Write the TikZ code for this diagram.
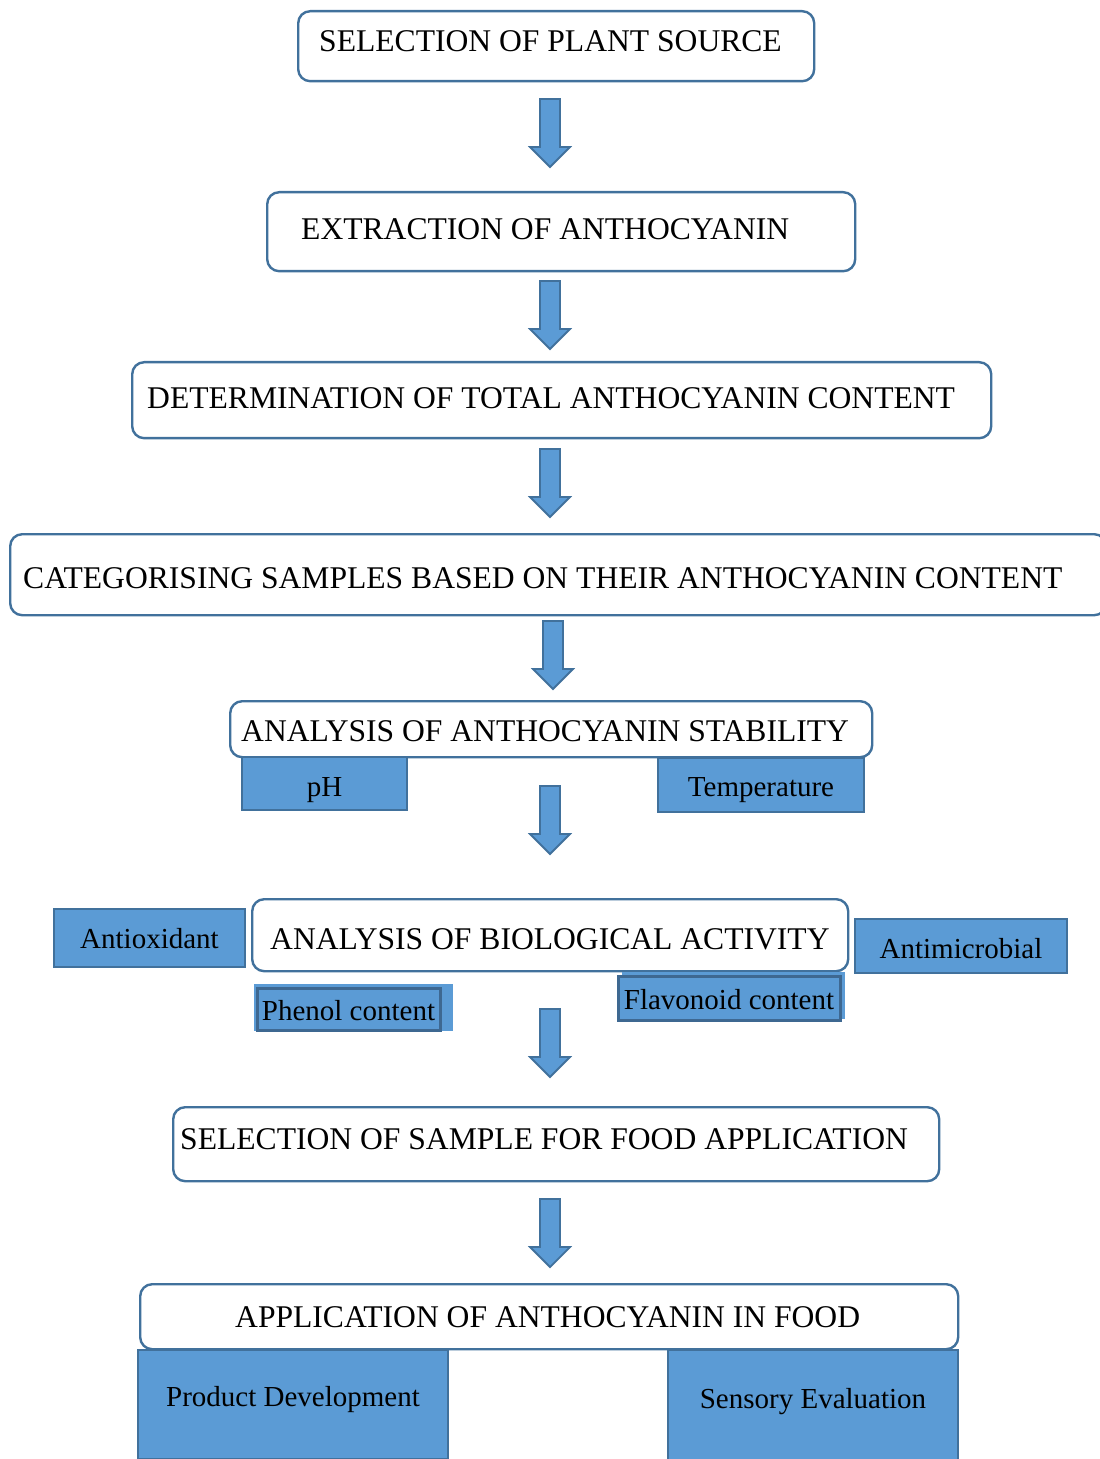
\documentclass[tikz,border=0pt]{standalone}
\usepackage{fontspec}
\setmainfont{Liberation Serif}
\usepackage{tikz}

\definecolor{boxblue}{RGB}{91,155,213}
\definecolor{edgeblue}{RGB}{65,113,156}
\definecolor{frameblue}{RGB}{62,104,145}

\tikzset{
  stage/.style={draw=edgeblue, line width=1.2pt, rounded corners=6pt, fill=white,
    font=\fontsize{15.8}{18}\selectfont, inner ysep=0pt, anchor=north west},
  tag/.style={draw=edgeblue, line width=1pt, fill=boxblue, anchor=north,
    font=\fontsize{14.5}{17}\selectfont, inner sep=0pt},
  tagbg/.style={fill=boxblue, inner sep=0pt},
  tagframe/.style={draw=frameblue, line width=1.5pt, fill=boxblue, anchor=north,
    font=\fontsize{14.5}{17}\selectfont, inner sep=0pt},
  flowarrow/.pic={
    \filldraw[fill=boxblue, draw=edgeblue, line width=0.9pt]
      (-10,0) -- (10,0) -- (10,48) -- (20,48) -- (0,68) -- (-20,48) -- (-10,48) -- cycle;
  },
}

\begin{document}
\begin{tikzpicture}[x=0.5pt, y=-0.5pt]
  \useasboundingbox (0,0) rectangle (1099,1459);

  % main steps
  \node[stage, inner xsep=10.5pt, text height=20pt, text depth=15pt] (plant) at (297,10) {\makebox[237pt][l]{SELECTION OF PLANT SOURCE}};
  \node[stage, inner xsep=17pt, text height=23.5pt, text depth=16pt] (extract) at (266,191) {\makebox[260pt][l]{EXTRACTION OF ANTHOCYANIN}};
  \node[stage, inner xsep=7.5pt, text height=23pt, text depth=15pt] (total) at (131,361) {\makebox[414.5pt][l]{DETERMINATION OF TOTAL ANTHOCYANIN CONTENT}};
  \node[stage, inner xsep=6.5pt, text height=27pt, text depth=13.5pt] (categ) at (9,533) {\makebox[535pt][l]{CATEGORISING SAMPLES BASED ON THEIR ANTHOCYANIN CONTENT}};
  \node[stage, inner xsep=5.5pt, text height=20pt, text depth=8pt] (stab) at (229,700) {\makebox[310pt][l]{ANALYSIS OF ANTHOCYANIN STABILITY}};
  \node[stage, inner xsep=9pt, text height=25pt, text depth=11pt] (bio) at (251,898) {\makebox[280pt][l]{ANALYSIS OF BIOLOGICAL ACTIVITY}};
  \node[stage, inner xsep=3.5pt, text height=21pt, text depth=16pt] (select) at (172,1106) {\makebox[376pt][l]{SELECTION OF SAMPLE FOR FOOD APPLICATION}};
  \node[stage, inner xsep=47.5pt, text height=21.5pt, text depth=11pt] (apply) at (139,1283) {\makebox[314pt][l]{APPLICATION OF ANTHOCYANIN IN FOOD}};

  % stability factors
  \node[tag, minimum width=82.5pt, text height=19.5pt, text depth=7pt] (ph) at (324.5,756) {pH};
  \node[tag, minimum width=103pt, text height=19pt, text depth=8pt] (temp) at (761,757) {Temperature};

  % biological activity
  \node[tag, minimum width=95.5pt, text height=19.5pt, text depth=9.5pt] (antiox) at (149.5,908) {Antioxidant};
  \node[tag, minimum width=106pt, text height=19.5pt, text depth=7.5pt] (antimic) at (961,918) {Antimicrobial};
  \node[tagbg, minimum width=99.5pt, minimum height=23.5pt] (phenolbg) at (353.5,1007.5) {};
  \node[tagframe, minimum width=91.5pt, text height=16pt, text depth=5pt] (phenol) at (348.5,987) {Phenol content};
  \node[tagbg, minimum width=111.5pt, minimum height=23.5pt] (flavbg) at (733.5,995.5) {};
  \node[tagframe, minimum width=111pt, text height=16.5pt, text depth=5.5pt] (flav) at (729,975) {Flavonoid content};

  % food application
  \node[tag, minimum width=155pt, text height=28pt, text depth=26.5pt] (prod) at (293,1349) {Product Development};
  \node[tag, minimum width=145pt, text height=29pt, text depth=26pt] (sens) at (813,1349) {Sensory Evaluation};

  % arrows between steps
  \pic (a1) at (550,99) {flowarrow};
  \pic (a2) at (550,281) {flowarrow};
  \pic (a3) at (550,449) {flowarrow};
  \pic (a4) at (553,621) {flowarrow};
  \pic (a5) at (550,786) {flowarrow};
  \pic (a6) at (550,1009) {flowarrow};
  \pic (a7) at (550,1199) {flowarrow};
\end{tikzpicture}
\end{document}
